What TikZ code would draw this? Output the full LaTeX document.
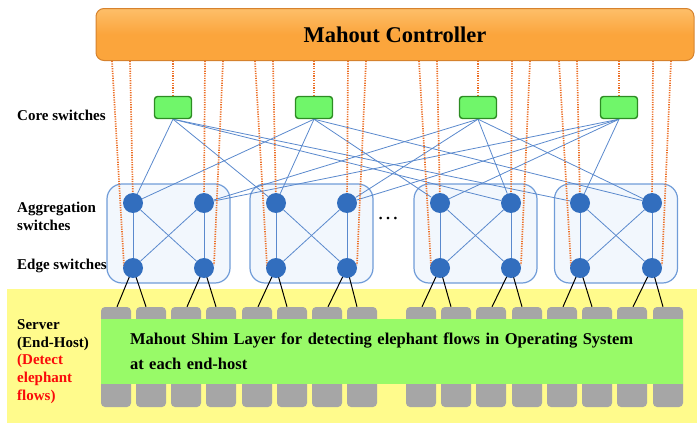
\documentclass[tikz,border=0pt]{standalone}
\usepackage{fontspec}
\setmainfont{Liberation Serif}
\usetikzlibrary{calc}
\pgfdeclarelayer{bg}
\pgfdeclarelayer{links}
\pgfsetlayers{bg,links,main}
\definecolor{ctrlorange}{RGB}{251,165,60}
\definecolor{ctrltop}{RGB}{253,190,105}
\definecolor{ctrledge}{RGB}{214,130,45}
\definecolor{coregreen}{RGB}{112,246,106}
\definecolor{coreedge}{RGB}{45,140,35}
\definecolor{nodeblue}{RGB}{50,110,190}
\definecolor{linkblue}{RGB}{90,137,205}
\definecolor{podfill}{RGB}{242,247,253}
\definecolor{podedge}{RGB}{112,156,216}
\definecolor{dotorange}{RGB}{236,112,40}
\definecolor{bgyellow}{RGB}{255,251,140}
\definecolor{shimgreen}{RGB}{152,250,104}
\definecolor{servergray}{RGB}{166,166,166}
\definecolor{lblred}{RGB}{250,10,10}
\begin{document}
\begin{tikzpicture}[x=1pt,y=-1pt,
  ctrlbox/.style={draw=ctrledge, top color=ctrltop, bottom color=ctrlorange,
    middle color=ctrlorange, rounded corners=8pt, line width=1pt,
    minimum width=598pt, minimum height=52pt, inner sep=0pt,
    font=\bfseries\fontsize{22.5}{26}\selectfont},
  corebox/.style={draw=coreedge, fill=coregreen, rounded corners=3pt, line width=1.4pt,
    minimum width=37pt, minimum height=22pt, inner sep=0pt},
  sw/.style={circle, fill=nodeblue, minimum size=20pt, inner sep=0pt},
  podbox/.style={draw=podedge, fill=podfill, rounded corners=15pt, line width=1.2pt,
    minimum width=123pt, minimum height=99pt, inner sep=0pt},
  link/.style={linkblue, line width=0.8pt},
  ctl/.style={dotorange, line width=1.7pt, dash pattern=on 1.2pt off 1.2pt},
  srv/.style={fill=servergray, rounded corners=4pt, minimum width=30pt,
    minimum height=100pt, inner sep=0pt},
  hostlink/.style={black, line width=1pt},
  zone/.style={fill=bgyellow, minimum width=690pt, minimum height=134pt, inner sep=0pt},
  shim/.style={fill=shimgreen, text width=524pt, inner xsep=29pt, inner ysep=0pt,
    minimum height=65pt, align=left, font=\bfseries\fontsize{16.5}{20}\selectfont},
  lbl/.style={font=\bfseries\fontsize{15}{17.8}\selectfont, align=left, anchor=west,
    inner sep=0pt}]
\useasboundingbox (0,0) rectangle (697,423);

% controller
\node[ctrlbox] (ctrl) at (395,34.5) {Mahout Controller};

% core switches
\node[corebox] (c1) at (173,107.5) {};
\node[corebox] (c2) at (314,107.5) {};
\node[corebox] (c3) at (478,107.5) {};
\node[corebox] (c4) at (619,107.5) {};

% aggregation and edge switches
\foreach \x [count=\i] in {133,204,276,347,440,511,580,652} {
  \node[sw] (a\i) at (\x,203) {};
  \node[sw] (e\i) at (\x,268) {};
}

% servers
\foreach \x [count=\i] in {116,151,186,221,257,292,327,362,421,456,491,527,562,597,632,668} {
  \node[srv] (s\i) at (\x,357) {};
}

% shim layer
\node[shim] (shim) at (392,351) {\vspace*{5pt}Mahout Shim Layer for detecting elephant flows in Operating System\\at each end-host};

% labels
\node[lbl] (lcore) at (17,115) {Core switches};
\node[lbl] (lagg) at (17,216.5) {Aggregation\\switches};
\node[lbl] (ledge) at (17,266) {Edge switches};
\node[lbl] (lsrv) at (17,361.5) {Server\\(End-Host)\\\textcolor{lblred}{(Detect}\\\textcolor{lblred}{elephant}\\\textcolor{lblred}{flows)}};
\node[inner sep=0pt, font=\fontsize{22}{22}\selectfont] (dots) at (388,219) {…};

\begin{pgfonlayer}{bg}
  \node[zone] (zone) at (352,356) {};
  \node[podbox] (p1) at (168.5,233.5) {};
  \node[podbox] (p2) at (311.5,233.5) {};
  \node[podbox] (p3) at (475.5,233.5) {};
  \node[podbox] (p4) at (616,233.5) {};
\end{pgfonlayer}

\begin{pgfonlayer}{links}
  % pod internal links
  \foreach \i/\j in {1/2,3/4,5/6,7/8} {
    \draw[link] (a\i) -- (e\i);
    \draw[link] (a\j) -- (e\j);
    \draw[link] (a\i) -- (e\j);
    \draw[link] (a\j) -- (e\i);
  }
  % core to aggregation links
  \foreach \k in {1,3,6,7} \draw[link] (c1.south) -- (a\k);
  \foreach \k in {1,3,5,8} \draw[link] (c2.south) -- (a\k);
  \foreach \k in {2,4,6,8} \draw[link] (c3.south) -- (a\k);
  \foreach \k in {2,4,5,7} \draw[link] (c4.south) -- (a\k);
  % edge to server links
  \foreach \i [evaluate=\i as \l using int(2*\i-1), evaluate=\i as \r using int(2*\i)] in {1,...,8} {
    \draw[hostlink] (e\i.center) -- ([xshift=1pt]s\l.north);
    \draw[hostlink] (e\i.center) -- ([xshift=-5pt]s\r.north);
  }
  % controller control channels
  \foreach \k in {1,2,3,4} \draw[ctl] (ctrl.south -| c\k) -- (c\k.north);
  \foreach \i/\j in {1/2,3/4,5/6,7/8} {
    \draw[ctl] ($(ctrl.south -| a\i)+(-21,0)$) -- ($(e\i.center)+(-9,-2)$);
    \draw[ctl] ($(ctrl.south -| a\i)+(-3,0)$) -- (a\i.center);
    \draw[ctl] ($(ctrl.south -| a\j)+(1,0)$) -- (a\j.center);
    \draw[ctl] ($(ctrl.south -| a\j)+(19,0)$) -- ($(e\j.center)+(10,-3)$);
  }
\end{pgfonlayer}
\end{tikzpicture}
\end{document}
